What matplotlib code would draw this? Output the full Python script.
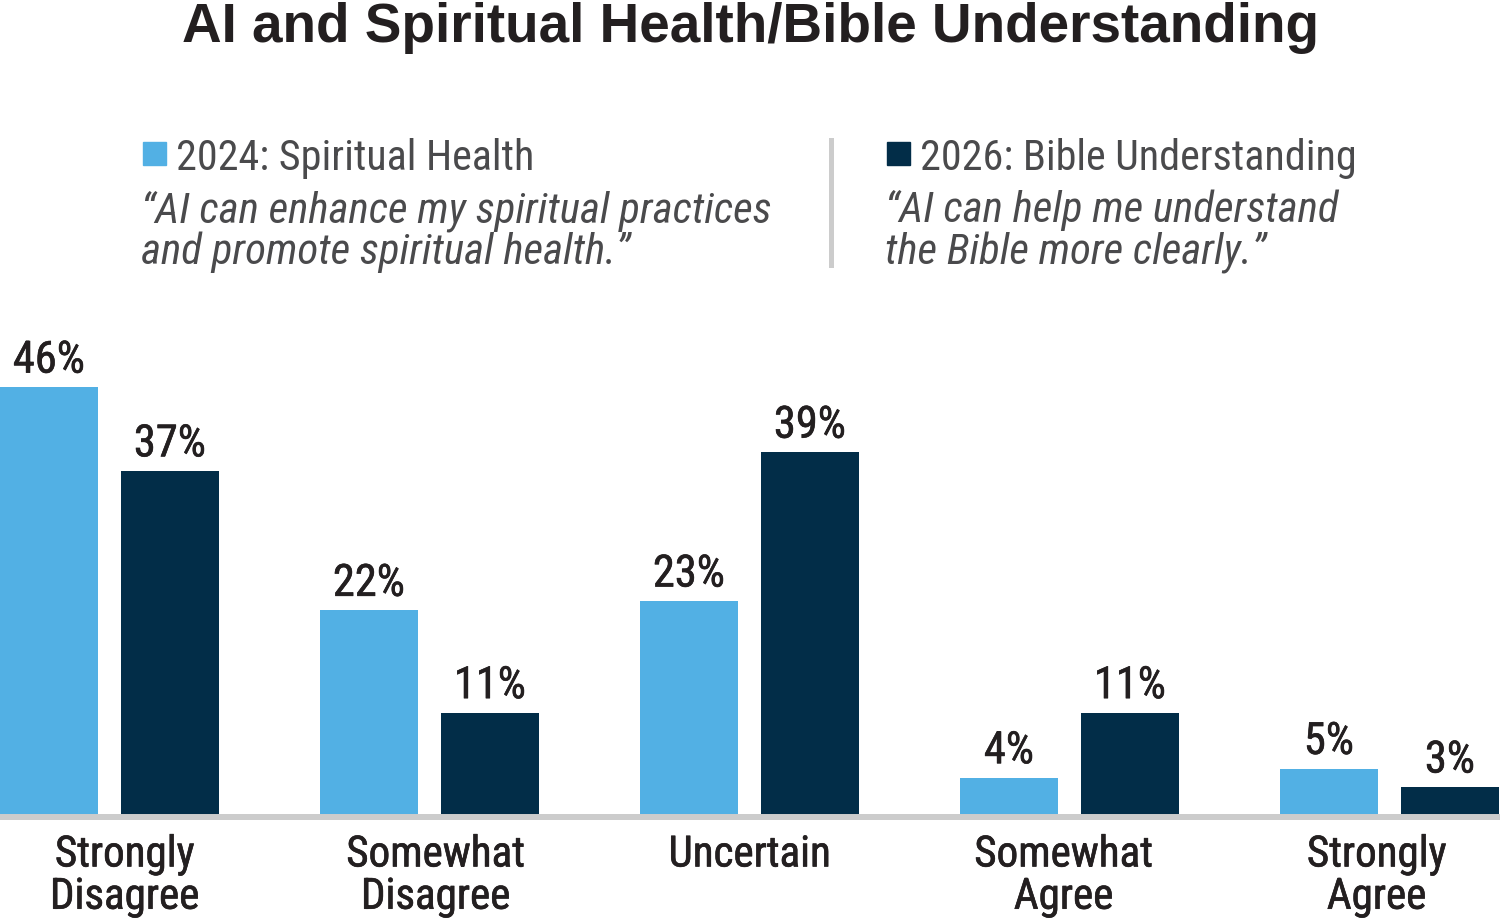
import numpy as np
import matplotlib
matplotlib.use('Agg')
import matplotlib.pyplot as plt
import matplotlib.patheffects as pe
from matplotlib import font_manager as fm
from matplotlib.lines import Line2D
from matplotlib.patches import Rectangle

# chart data
categories = ['Strongly\nDisagree', 'Somewhat\nDisagree', 'Uncertain', 'Somewhat\nAgree', 'Strongly\nAgree']
spiritual_2024 = [46, 22, 23, 4, 5]
bible_2026 = [37, 11, 39, 11, 3]

series_names = ['2024: Spiritual Health', '2026: Bible Understanding']
series_quotes = [['\u201cAI can enhance my spiritual practices', 'and promote spiritual health.\u201d'],
                 ['\u201cAI can help me understand', 'the Bible more clearly.\u201d']]
title = 'AI and Spiritual Health/Bible Understanding'

LIGHT = '#52b0e4'
DARK = '#022d48'
GRAY_TXT = '#4a4a4c'
BLACK_TXT = '#231f20'
RULE = '#cccccc'

W, H = 1500, 924

# pick a condensed face if one is around, else fall back
installed = set(f.name for f in fm.fontManager.ttflist)
wanted = ['Roboto Condensed', 'Archivo Narrow', 'Fira Sans Condensed', 'PT Sans Narrow',
          'IBM Plex Sans Condensed', 'Barlow Semi Condensed', 'Liberation Sans Narrow', 'Roboto']
narrow_name = next((n for n in wanted if n in installed), 'DejaVu Sans')
NARROW = [narrow_name, 'DejaVu Sans']

# a thin outline to darken the regular weight a little (no medium face available)
thicken = [pe.withStroke(linewidth=0.45, foreground=BLACK_TXT)]


def fx(x):
    return x / W


def fy(y):
    return 1 - y / H


fig = plt.figure(figsize=(15, 9.24), dpi=100)
fig.patch.set_facecolor('white')

# axes: bottom at baseline pixel 815, 50 units tall at ~9.3 px/unit
ax = fig.add_axes([0, fy(815), 1, 465 / H])
x = np.arange(len(categories))
bw = 98 / 320
off = 60.5 / 320

b1 = ax.bar(x - off, spiritual_2024, bw, color=LIGHT, zorder=3)
b2 = ax.bar(x + off, bible_2026, bw, color=DARK, zorder=3)

for bars, vals in [(b1, spiritual_2024), (b2, bible_2026)]:
    for rect, v in zip(bars, vals):
        ax.annotate('%d%%' % v, xy=(rect.get_x() + rect.get_width() / 2, v),
                    xytext=(0, 10.5), textcoords='offset points',
                    ha='center', va='baseline', fontsize=32,
                    family=NARROW, color=BLACK_TXT, path_effects=thicken)

ax.set_xlim(-109.5 / 320, (1500 - 109.5) / 320)
ax.set_ylim(0, 50)
ax.set_yticks([])
# category labels sit a touch off the group centres in the original
label_nudge = np.array([15, 6, 0, -6, -13]) / 320
ax.set_xticks(x + label_nudge)
ax.set_xticklabels(categories, fontsize=31, family=NARROW,
                   color=BLACK_TXT, linespacing=1.04)
for t in ax.get_xticklabels():
    t.set_path_effects(thicken)
ax.tick_params(axis='x', length=0, pad=14)
for s in ax.spines.values():
    s.set_visible(False)
ax.patch.set_alpha(0)

# baseline rule across full width
fig.add_artist(Line2D([0, 1], [fy(816.5), fy(816.5)], color=RULE, lw=4.3,
                      transform=fig.transFigure, zorder=4))

# title
fig.text(0.5, fy(42), title, ha='center', va='baseline', fontsize=39.5,
         fontweight='bold', family=['Liberation Sans', 'DejaVu Sans'], color=BLACK_TXT)

# legend blocks
leg_x = [143, 887]
for i, (name, quote, col) in enumerate(zip(series_names, series_quotes, [LIGHT, DARK])):
    lx = leg_x[i]
    fig.add_artist(Rectangle((fx(lx), fy(165)), 23 / W, 23 / H, color=col,
                             transform=fig.transFigure))
    fig.text(fx(lx + 33), fy(170), name, ha='left', va='baseline', fontsize=30.3,
             family=NARROW, color=GRAY_TXT)
    for j, line in enumerate(quote):
        fig.text(fx(lx - 2), fy(222 + 42 * j), line, ha='left', va='baseline', fontsize=31,
                 family=NARROW, style='italic', color=GRAY_TXT)

# vertical divider
fig.add_artist(Line2D([fx(831), fx(831)], [fy(140), fy(265)], color=RULE, lw=3.6,
                      transform=fig.transFigure))

fig.savefig('out.png', dpi=100, facecolor='white')
